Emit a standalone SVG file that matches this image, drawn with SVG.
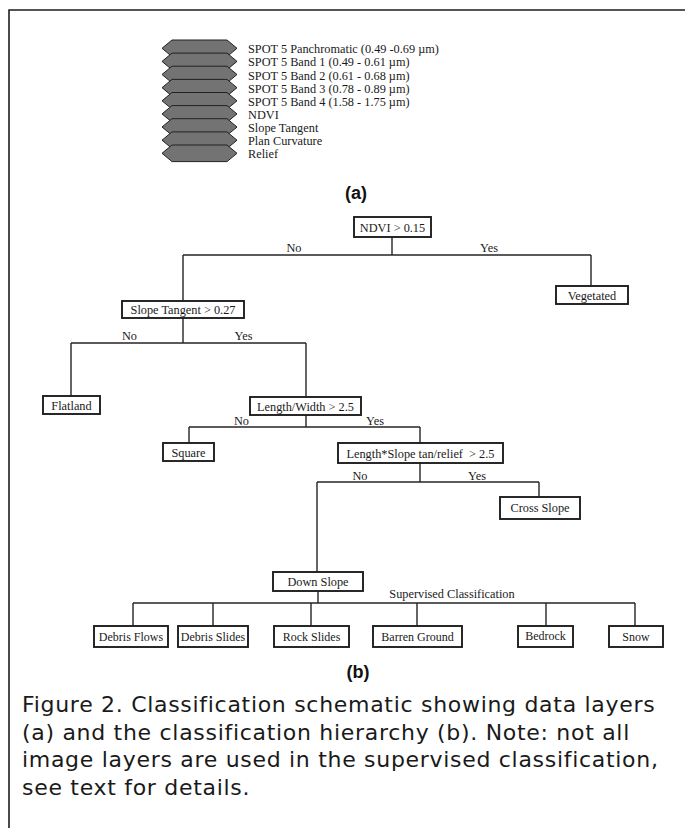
<svg xmlns="http://www.w3.org/2000/svg" width="685" height="828" viewBox="0 0 685 828">
  <style>
    .frame { fill: none; stroke: #1e1e1e; stroke-width: 1.6; }
    .hex { fill: #737373; stroke: #222222; stroke-width: 1; }
    .layer { font-family: "Liberation Serif", "Times New Roman", serif; font-size: 12.3px; fill: #1a1a1a; }
    .box { fill: #ffffff; stroke: #1e1e1e; stroke-width: 1.9; }
    .lbl { font-family: "Liberation Serif", "Times New Roman", serif; font-size: 12.3px; fill: #1a1a1a; text-anchor: middle; }
    .leaf { font-family: "Liberation Serif", "Times New Roman", serif; font-size: 12px; fill: #1a1a1a; text-anchor: middle; }
    .edge { fill: none; stroke: #262626; stroke-width: 1.4; }
    .part { font-family: "Liberation Sans", Arial, sans-serif; font-size: 18px; font-weight: bold; fill: #111111; text-anchor: middle; }
    .cap { font-family: "DejaVu Sans", "Liberation Sans", sans-serif; font-size: 22px; letter-spacing: 0.7px; fill: #1a1a1a; }
  </style>
  <defs>
    <polygon id="hexShape" points="162,0 172,-8.3 227,-8.3 237,0 227,8.3 172,8.3"/>
  </defs>

  <!-- page frame -->
  <path class="frame" d="M9,828 V10 H685"/>

  <!-- (a) stacked data layers -->
  <g id="layers">
    <use href="#hexShape" class="hex" y="48.3"/>
    <use href="#hexShape" class="hex" y="61.4"/>
    <use href="#hexShape" class="hex" y="74.5"/>
    <use href="#hexShape" class="hex" y="87.7"/>
    <use href="#hexShape" class="hex" y="100.8"/>
    <use href="#hexShape" class="hex" y="113.9"/>
    <use href="#hexShape" class="hex" y="127.0"/>
    <use href="#hexShape" class="hex" y="140.2"/>
    <use href="#hexShape" class="hex" y="153.3"/>
    <text class="layer" x="248" y="53.3">SPOT 5 Panchromatic (0.49 -0.69 µm)</text>
    <text class="layer" x="248" y="66.4">SPOT 5 Band 1 (0.49 - 0.61 µm)</text>
    <text class="layer" x="248" y="79.5">SPOT 5 Band 2 (0.61 - 0.68 µm)</text>
    <text class="layer" x="248" y="92.7">SPOT 5 Band 3 (0.78 - 0.89 µm)</text>
    <text class="layer" x="248" y="105.8">SPOT 5 Band 4 (1.58 - 1.75 µm)</text>
    <text class="layer" x="248" y="118.9">NDVI</text>
    <text class="layer" x="248" y="132.0">Slope Tangent</text>
    <text class="layer" x="248" y="145.2">Plan Curvature</text>
    <text class="layer" x="248" y="158.3">Relief</text>
  </g>
  <text class="part" x="356" y="199">(a)</text>

  <!-- (b) classification hierarchy: connectors -->
  <g id="connectors">
    <path class="edge" d="M392,237 V255 M183,255 H591 M591,255 V286 M183,255 V301"/>
    <path class="edge" d="M183,318 V343 M71,343 H306 M71,343 V396 M306,343 V397"/>
    <path class="edge" d="M306,415 V427 M189,427 H420 M189,427 V443 M420,427 V443"/>
    <path class="edge" d="M420,463 V482 M317,482 H539 M539,482 V497 M317,482 V572"/>
    <path class="edge" d="M318,591 V603 M133,603 H635 M133,603 V626 M213,603 V626 M311,603 V626 M417,603 V626 M546,603 V626 M635,603 V626"/>
  </g>

  <g id="branch-labels">
    <text class="lbl" x="294" y="252">No</text>
    <text class="lbl" x="489" y="252">Yes</text>
    <text class="lbl" x="129.5" y="340">No</text>
    <text class="lbl" x="243.5" y="340">Yes</text>
    <text class="lbl" x="241.5" y="425">No</text>
    <text class="lbl" x="375" y="425">Yes</text>
    <text class="lbl" x="360" y="480">No</text>
    <text class="lbl" x="477" y="480">Yes</text>
    <text class="lbl" x="452" y="598">Supervised Classification</text>
  </g>

  <!-- decision and class nodes -->
  <g id="ndvi">
    <rect class="box" x="354" y="217" width="77" height="20"/>
    <text class="lbl" x="392.5" y="231.5">NDVI &gt; 0.15</text>
  </g>
  <g id="vegetated">
    <rect class="box" x="556" y="286" width="72" height="18"/>
    <text class="lbl" x="592" y="299.5">Vegetated</text>
  </g>
  <g id="slope-tangent">
    <rect class="box" x="122" y="301" width="122" height="17"/>
    <text class="lbl" x="183" y="314">Slope Tangent &gt; 0.27</text>
  </g>
  <g id="flatland">
    <rect class="box" x="43" y="396" width="57" height="18"/>
    <text class="lbl" x="71.5" y="409.5">Flatland</text>
  </g>
  <g id="length-width">
    <rect class="box" x="250" y="397" width="111" height="18"/>
    <text class="lbl" x="305.5" y="410.5">Length/Width &gt; 2.5</text>
  </g>
  <g id="square">
    <rect class="box" x="163" y="443" width="51" height="18"/>
    <text class="lbl" x="188.5" y="456.5">Square</text>
  </g>
  <g id="length-slope">
    <rect class="box" x="338" y="443" width="165" height="20"/>
    <text class="lbl" x="420.5" y="457.5" style="white-space:pre">Length*Slope tan/relief  &gt; 2.5</text>
  </g>
  <g id="cross-slope">
    <rect class="box" x="500" y="497" width="80" height="22"/>
    <text class="lbl" x="540" y="512">Cross Slope</text>
  </g>
  <g id="down-slope">
    <rect class="box" x="273" y="572" width="90" height="19"/>
    <text class="lbl" x="318" y="585.5">Down Slope</text>
  </g>
  <g id="debris-flows">
    <rect class="box" x="94" y="626" width="74" height="21"/>
    <text class="leaf" x="131" y="640.5">Debris Flows</text>
  </g>
  <g id="debris-slides">
    <rect class="box" x="178" y="626" width="70" height="21"/>
    <text class="leaf" x="213" y="640.5">Debris Slides</text>
  </g>
  <g id="rock-slides">
    <rect class="box" x="274" y="626" width="75" height="21"/>
    <text class="leaf" x="311.5" y="640.5">Rock Slides</text>
  </g>
  <g id="barren-ground">
    <rect class="box" x="373" y="626" width="89" height="21"/>
    <text class="leaf" x="417.5" y="640.5">Barren Ground</text>
  </g>
  <g id="bedrock">
    <rect class="box" x="518" y="626" width="55" height="21"/>
    <text class="leaf" x="545.5" y="639.5">Bedrock</text>
  </g>
  <g id="snow">
    <rect class="box" x="609" y="626" width="54" height="21"/>
    <text class="leaf" x="636" y="640.5">Snow</text>
  </g>
  <text class="part" x="358" y="678">(b)</text>

  <!-- figure caption -->
  <g id="caption">
    <text class="cap" x="22" y="712">Figure 2. Classification schematic showing data layers</text>
    <text class="cap" x="22" y="740">(a) and the classification hierarchy (b). Note: not all</text>
    <text class="cap" x="22" y="767">image layers are used in the supervised classification,</text>
    <text class="cap" x="22" y="795">see text for details.</text>
  </g>
</svg>
